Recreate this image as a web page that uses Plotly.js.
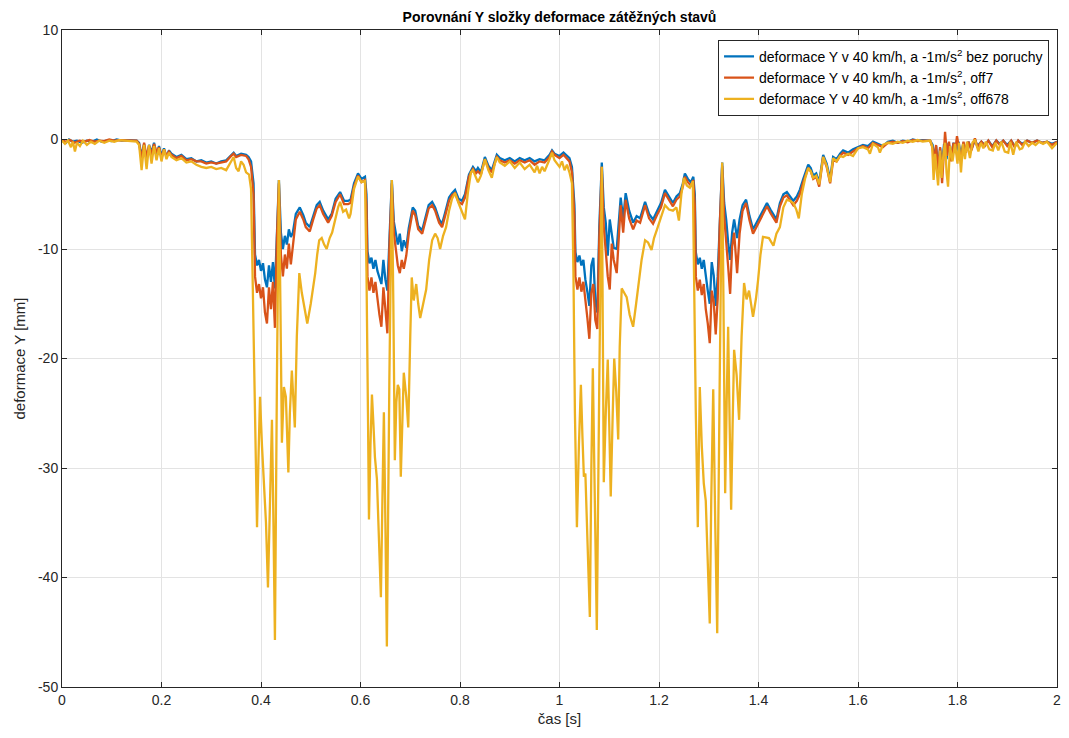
<!DOCTYPE html>
<html>
<head>
<meta charset="utf-8">
<script src="https://cdn.plot.ly/plotly-3.0.1.min.js"></script>
<style>html,body{margin:0;padding:0;background:#fff;}#chart{width:1069px;height:738px;}</style>
</head>
<body>
<div id="chart"></div>
<script>
// Series names
const seriesNames = [
  'deformace Y v 40 km/h, a -1m/s<sup>2</sup> bez poruchy',
  'deformace Y v 40 km/h, a -1m/s<sup>2</sup>, off7',
  'deformace Y v 40 km/h, a -1m/s<sup>2</sup>, off678'
];

// Blue: bez poruchy
const tB = [0.000,0.008,0.014,0.022,0.03,0.04,0.05,0.06,0.07,0.08,0.09,0.10,0.11,0.12,0.13,0.15,0.155,0.16,0.165,0.17,0.175,0.18,0.185,0.19,0.195,0.20,0.205,0.21,0.215,0.22,0.23,0.24,0.25,0.26,0.27,0.28,0.29,0.30,0.31,0.32,0.33,0.34,0.345,0.35,0.36,0.37,0.375,0.38,0.385,0.388,0.392,0.396,0.40,0.404,0.408,0.412,0.416,0.42,0.424,0.428,0.432,0.436,0.44,0.444,0.448,0.452,0.456,0.46,0.464,0.47,0.478,0.485,0.49,0.498,0.505,0.512,0.518,0.525,0.535,0.542,0.55,0.559,0.567,0.575,0.58,0.587,0.595,0.602,0.609,0.612,0.614,0.618,0.622,0.626,0.63,0.634,0.638,0.642,0.646,0.65,0.654,0.658,0.663,0.667,0.671,0.675,0.679,0.683,0.687,0.692,0.697,0.705,0.71,0.716,0.724,0.73,0.737,0.744,0.75,0.758,0.764,0.77,0.778,0.784,0.79,0.797,0.804,0.81,0.818,0.826,0.832,0.836,0.842,0.85,0.857,0.864,0.874,0.88,0.89,0.90,0.91,0.92,0.93,0.94,0.95,0.96,0.97,0.98,0.985,0.99,1.0,1.008,1.015,1.02,1.025,1.03,1.032,1.036,1.04,1.044,1.048,1.052,1.056,1.06,1.064,1.068,1.072,1.076,1.08,1.085,1.089,1.093,1.097,1.101,1.105,1.109,1.115,1.123,1.128,1.133,1.14,1.148,1.155,1.162,1.172,1.18,1.188,1.196,1.204,1.212,1.22,1.228,1.235,1.242,1.248,1.252,1.258,1.264,1.269,1.272,1.274,1.278,1.282,1.286,1.29,1.294,1.298,1.302,1.306,1.31,1.314,1.318,1.322,1.327,1.331,1.335,1.339,1.343,1.347,1.351,1.357,1.362,1.368,1.375,1.382,1.389,1.396,1.403,1.41,1.417,1.424,1.43,1.436,1.443,1.45,1.457,1.463,1.47,1.477,1.483,1.49,1.5,1.505,1.51,1.516,1.522,1.53,1.537,1.544,1.55,1.557,1.564,1.57,1.58,1.59,1.6,1.61,1.62,1.63,1.64,1.65,1.66,1.67,1.68,1.69,1.70,1.71,1.72,1.73,1.745,1.75,1.753,1.757,1.761,1.765,1.769,1.773,1.778,1.782,1.787,1.792,1.797,1.802,1.807,1.812,1.817,1.822,1.828,1.835,1.84,1.848,1.855,1.862,1.87,1.878,1.885,1.892,1.9,1.908,1.915,1.922,1.93,1.94,1.95,1.96,1.97,1.98,1.99,2.0];
const yB = [-0.1,-0.3,0.0,-0.2,-0.1,-0.3,-0.1,-0.2,0.0,-0.2,-0.1,-0.15,0.0,-0.1,-0.05,-0.1,-0.3,-1.5,-0.4,-1.8,-0.5,-1.2,-0.3,-1.4,-0.6,-1.5,-0.8,-1.6,-1.0,-1.3,-1.6,-1.4,-1.8,-1.7,-2.0,-1.9,-2.1,-2.0,-2.2,-2.0,-1.9,-1.4,-1.2,-1.5,-1.3,-1.4,-1.6,-2.0,-4,-10.5,-11.5,-11.0,-12.0,-11.3,-12.8,-13.5,-11.5,-13.0,-11.2,-13.6,-8,-3.7,-8.5,-10.0,-8.8,-9.6,-8.2,-8.9,-8.5,-6.8,-6.2,-6.9,-7.6,-8.0,-7.0,-6.0,-5.7,-6.5,-7.3,-6.8,-5.4,-4.8,-5.6,-5.6,-5.5,-4.0,-3.1,-3.6,-3.4,-5,-10.2,-11.3,-10.8,-11.8,-11.0,-12.0,-12.6,-13.2,-11.0,-12.8,-13.8,-9,-3.7,-7.5,-8.4,-9.6,-8.6,-10.2,-9.2,-9.9,-8.1,-6.2,-6.5,-7.9,-8.3,-7.2,-6.0,-5.7,-6.2,-7.3,-7.7,-6.7,-5.3,-4.9,-4.6,-5.4,-5.6,-5.0,-3.2,-2.5,-2.9,-2.6,-3.0,-1.6,-2.4,-2.8,-1.4,-1.7,-1.9,-1.7,-2.0,-1.7,-1.9,-1.7,-2.0,-1.8,-1.9,-1.4,-1.0,-1.3,-1.5,-1.2,-1.5,-1.7,-2.5,-6,-10.3,-11.2,-10.6,-11.5,-11.0,-12.8,-13.9,-15.2,-11.5,-10.8,-14.8,-15.8,-8,-2.1,-6.2,-7.6,-10.6,-7.3,-8.6,-9.9,-10.0,-5.3,-7.3,-4.9,-6.5,-7.6,-7.0,-7.2,-5.7,-6.8,-7.3,-6.5,-5.8,-4.6,-5.2,-5.8,-5.2,-4.9,-4.0,-3.1,-3.6,-3.9,-3.4,-5,-10.3,-11.4,-10.8,-11.8,-11.0,-12.6,-13.8,-15.0,-11.2,-12.4,-15.2,-12.5,-7,-2.1,-5.8,-7.3,-9.4,-11.0,-8.5,-7.3,-9.0,-7.3,-6.0,-5.5,-7.0,-8.2,-7.6,-7.0,-6.4,-5.8,-6.4,-6.9,-7.3,-5.8,-5.0,-4.8,-5.2,-5.6,-5.2,-4.6,-3.6,-2.3,-2.6,-3.3,-3.1,-3.9,-1.4,-2.2,-3.6,-1.6,-1.8,-1.3,-1.0,-1.2,-0.9,-0.7,-0.5,-0.6,-0.2,-0.4,-0.6,-0.2,-0.1,-0.3,-0.1,-0.2,0.0,-0.1,-0.05,-0.1,-0.5,-1.8,-0.6,-2.5,-0.8,-2.2,-0.4,-1.8,-0.3,-1.5,-0.3,-1.2,-0.2,-1.4,-0.3,-1.0,-0.2,-0.9,0.0,-0.6,-0.2,-0.5,-0.1,-0.6,-0.1,-0.4,-0.1,-0.5,-0.1,-0.6,-0.1,-0.4,-0.1,-0.3,-0.1,-0.3,-0.2,-0.4,-0.2];

// Red: off7
const tR = [0.000,0.008,0.016,0.025,0.035,0.045,0.055,0.065,0.075,0.085,0.095,0.105,0.115,0.13,0.15,0.155,0.16,0.165,0.17,0.175,0.18,0.185,0.19,0.195,0.20,0.205,0.21,0.215,0.22,0.23,0.24,0.25,0.26,0.27,0.28,0.29,0.30,0.31,0.32,0.33,0.34,0.345,0.35,0.36,0.37,0.375,0.38,0.385,0.388,0.392,0.396,0.40,0.404,0.408,0.412,0.416,0.42,0.424,0.428,0.432,0.436,0.44,0.444,0.448,0.452,0.456,0.46,0.464,0.47,0.478,0.485,0.49,0.498,0.505,0.512,0.518,0.525,0.535,0.542,0.55,0.559,0.567,0.575,0.58,0.587,0.595,0.602,0.609,0.612,0.614,0.618,0.622,0.626,0.63,0.634,0.638,0.642,0.646,0.65,0.654,0.658,0.663,0.667,0.671,0.675,0.679,0.683,0.687,0.692,0.697,0.705,0.71,0.716,0.724,0.73,0.737,0.744,0.75,0.758,0.764,0.77,0.778,0.784,0.79,0.797,0.804,0.81,0.818,0.826,0.832,0.836,0.842,0.85,0.857,0.864,0.874,0.88,0.89,0.90,0.91,0.92,0.93,0.94,0.95,0.96,0.97,0.98,0.985,0.99,1.0,1.008,1.015,1.02,1.025,1.03,1.032,1.036,1.04,1.044,1.048,1.052,1.056,1.06,1.064,1.068,1.072,1.076,1.08,1.085,1.089,1.093,1.097,1.101,1.105,1.109,1.115,1.123,1.128,1.133,1.14,1.148,1.155,1.162,1.172,1.18,1.188,1.196,1.204,1.212,1.22,1.228,1.235,1.242,1.248,1.252,1.258,1.264,1.269,1.272,1.274,1.278,1.282,1.286,1.29,1.294,1.298,1.302,1.306,1.31,1.314,1.318,1.322,1.327,1.331,1.335,1.339,1.343,1.347,1.351,1.357,1.362,1.368,1.375,1.382,1.389,1.396,1.403,1.41,1.417,1.424,1.43,1.436,1.443,1.45,1.457,1.463,1.47,1.477,1.483,1.49,1.5,1.505,1.51,1.516,1.522,1.53,1.537,1.544,1.55,1.557,1.564,1.57,1.58,1.59,1.6,1.61,1.62,1.63,1.64,1.65,1.66,1.67,1.68,1.69,1.70,1.71,1.72,1.73,1.745,1.75,1.753,1.757,1.761,1.765,1.769,1.772,1.775,1.779,1.783,1.787,1.792,1.795,1.799,1.803,1.807,1.812,1.817,1.822,1.828,1.835,1.84,1.848,1.855,1.862,1.87,1.878,1.885,1.892,1.9,1.908,1.915,1.922,1.93,1.94,1.95,1.96,1.97,1.98,1.99,2.0];
const yR = [-0.1,-0.2,-0.05,-0.3,-0.1,-0.2,-0.05,-0.2,-0.1,-0.15,0.0,-0.1,-0.05,-0.1,-0.1,-0.4,-1.8,-0.3,-1.6,-0.6,-1.4,-0.4,-1.2,-0.7,-1.7,-0.9,-1.5,-1.1,-1.4,-1.7,-1.5,-1.9,-1.8,-2.0,-2.0,-2.2,-2.1,-2.2,-2.1,-2.0,-1.5,-1.3,-1.6,-1.4,-1.5,-1.8,-2.5,-5,-12.5,-14.0,-13.2,-14.5,-13.5,-15.8,-16.8,-13.5,-15.5,-13.0,-17.2,-9,-4.0,-10.5,-12.5,-10.5,-11.8,-9.5,-11.4,-9.8,-7.3,-6.6,-7.3,-8.0,-8.4,-7.3,-6.3,-6.0,-6.8,-7.6,-7.0,-5.7,-5.0,-5.9,-5.9,-5.8,-4.3,-3.3,-3.9,-3.7,-6,-12.5,-13.8,-12.6,-14.0,-13.0,-14.8,-16.0,-17.1,-13.5,-15.5,-17.7,-10,-4.0,-8.5,-10.0,-11.5,-12.2,-11.0,-11.8,-10.6,-8.6,-6.5,-6.9,-8.2,-8.6,-7.5,-6.3,-6.0,-6.5,-7.6,-8.0,-7.0,-5.6,-5.1,-4.9,-5.7,-5.9,-5.3,-3.4,-2.7,-3.1,-2.9,-3.2,-1.8,-2.6,-3.0,-1.6,-1.9,-2.1,-1.9,-2.2,-1.9,-2.1,-1.9,-2.3,-2.0,-2.1,-1.6,-1.1,-1.4,-1.7,-1.4,-1.7,-2.0,-3.0,-7,-12.5,-13.7,-12.6,-13.9,-13.0,-15.0,-16.3,-18.2,-14.0,-13.2,-16.5,-17.3,-9,-2.5,-8.0,-10.2,-12.5,-13.7,-9.5,-11.0,-12.2,-6.0,-8.5,-5.5,-7.2,-8.2,-7.4,-7.6,-6.0,-7.2,-7.7,-6.9,-6.2,-4.9,-5.5,-6.1,-5.5,-5.2,-4.3,-3.4,-3.9,-4.2,-3.7,-6,-12.5,-13.8,-12.8,-14.2,-13.2,-15.5,-16.8,-18.6,-13.8,-14.8,-17.8,-14.5,-8,-2.4,-7.0,-9.0,-11.6,-14.1,-9.8,-8.5,-12.2,-8.6,-6.5,-5.8,-7.4,-8.6,-8.0,-7.3,-6.7,-6.1,-6.7,-7.2,-7.6,-6.1,-5.3,-5.1,-5.5,-6.0,-5.6,-5.0,-3.9,-2.6,-2.9,-3.6,-3.4,-4.3,-1.6,-2.5,-4.0,-1.9,-2.0,-1.5,-1.2,-1.4,-1.1,-0.8,-0.6,-0.8,-0.3,-0.5,-0.7,-0.3,-0.2,-0.3,-0.15,-0.25,-0.05,-0.15,-0.1,-0.1,-0.8,-2.0,-0.5,-3.0,-0.7,-4.0,-1.0,0.7,-1.5,-0.2,-2.0,-0.3,-1.2,0.3,-0.8,-1.9,-0.2,-1.2,-0.2,-1.0,0.1,-0.7,-0.2,-0.6,-0.1,-0.7,-0.1,-0.5,-0.1,-0.6,-0.1,-0.7,-0.1,-0.5,-0.1,-0.3,-0.1,-0.3,-0.2,-0.5,-0.2];

// Yellow: off678
const tY = [0.000,0.006,0.012,0.018,0.022,0.026,0.03,0.036,0.042,0.05,0.058,0.066,0.075,0.085,0.095,0.105,0.115,0.13,0.15,0.155,0.16,0.165,0.17,0.175,0.18,0.185,0.19,0.195,0.20,0.205,0.21,0.215,0.22,0.23,0.24,0.25,0.26,0.27,0.28,0.29,0.30,0.31,0.32,0.33,0.335,0.34,0.345,0.35,0.355,0.36,0.365,0.37,0.376,0.38,0.384,0.388,0.392,0.395,0.398,0.402,0.406,0.41,0.414,0.418,0.422,0.425,0.428,0.432,0.436,0.439,0.442,0.446,0.45,0.455,0.458,0.462,0.465,0.468,0.472,0.477,0.482,0.487,0.493,0.5,0.505,0.509,0.513,0.517,0.522,0.527,0.532,0.538,0.543,0.55,0.555,0.559,0.565,0.571,0.577,0.58,0.587,0.595,0.602,0.609,0.612,0.615,0.617,0.62,0.623,0.626,0.629,0.633,0.637,0.641,0.644,0.647,0.65,0.653,0.658,0.663,0.666,0.669,0.672,0.675,0.678,0.681,0.684,0.687,0.692,0.696,0.7,0.703,0.707,0.712,0.716,0.72,0.726,0.732,0.738,0.744,0.75,0.755,0.76,0.766,0.772,0.778,0.784,0.79,0.797,0.804,0.81,0.816,0.822,0.826,0.83,0.836,0.842,0.85,0.857,0.864,0.87,0.874,0.88,0.89,0.90,0.91,0.92,0.93,0.94,0.95,0.955,0.96,0.965,0.97,0.98,0.985,0.99,1.0,1.005,1.01,1.015,1.02,1.025,1.028,1.031,1.035,1.039,1.043,1.046,1.049,1.052,1.056,1.061,1.064,1.067,1.071,1.075,1.08,1.085,1.087,1.089,1.093,1.097,1.1,1.103,1.107,1.11,1.114,1.118,1.121,1.125,1.13,1.135,1.141,1.148,1.154,1.158,1.165,1.172,1.178,1.185,1.19,1.196,1.204,1.212,1.22,1.228,1.235,1.24,1.245,1.25,1.256,1.262,1.268,1.27,1.274,1.278,1.282,1.286,1.29,1.294,1.298,1.302,1.305,1.309,1.313,1.317,1.322,1.327,1.33,1.333,1.336,1.339,1.342,1.345,1.348,1.351,1.356,1.361,1.366,1.371,1.376,1.381,1.389,1.395,1.399,1.404,1.409,1.416,1.421,1.43,1.436,1.443,1.45,1.457,1.463,1.47,1.476,1.481,1.487,1.494,1.5,1.505,1.51,1.516,1.522,1.53,1.537,1.544,1.55,1.557,1.564,1.57,1.58,1.59,1.6,1.61,1.62,1.624,1.63,1.64,1.644,1.65,1.66,1.67,1.68,1.69,1.70,1.71,1.72,1.73,1.745,1.749,1.752,1.755,1.758,1.761,1.765,1.768,1.772,1.775,1.778,1.781,1.785,1.79,1.795,1.8,1.803,1.807,1.811,1.815,1.819,1.825,1.83,1.835,1.842,1.847,1.852,1.857,1.864,1.871,1.876,1.882,1.888,1.895,1.902,1.906,1.912,1.918,1.925,1.93,1.936,1.943,1.95,1.957,1.964,1.972,1.98,1.99,2.0];
const yY = [-0.1,-0.4,-0.1,-0.7,-0.2,-1.1,-0.3,-0.6,-0.1,-0.5,-0.2,-0.4,-0.1,-0.3,-0.1,-0.2,-0.05,-0.1,-0.2,-0.5,-2.8,-0.5,-2.7,-0.5,-2.2,-0.6,-1.9,-0.8,-2.0,-0.9,-1.8,-1.2,-1.6,-1.9,-1.7,-2.1,-2.0,-2.3,-2.5,-2.6,-2.5,-2.7,-2.6,-2.8,-2.4,-1.9,-1.6,-2.6,-2.9,-2.0,-2.3,-3.0,-3.2,-4.5,-14,-27,-35.4,-29,-23.5,-28,-31.1,-35,-40.9,-33,-25.6,-35,-45.7,-22,-3.7,-15,-27.7,-22.6,-23.5,-30.4,-25,-21.1,-24,-26.3,-18,-12.2,-14.0,-15.3,-16.8,-15.0,-13.5,-12.2,-10.5,-9.2,-9.0,-9.6,-10.0,-9.0,-8.5,-7.0,-6.2,-5.7,-6.6,-6.4,-7.2,-6.8,-4.5,-3.4,-3.9,-3.8,-12,-25,-34.7,-28,-23.3,-26,-29,-31,-36,-41.8,-33,-24.9,-35,-46.3,-22,-3.7,-15,-29.3,-24,-22.4,-22.8,-30.8,-26,-21.3,-23.5,-26.3,-18,-12.6,-14.7,-13.2,-15.0,-16.3,-15.0,-13.7,-11.0,-9.2,-8.6,-9.0,-10.0,-8.8,-8.0,-6.5,-5.4,-4.9,-5.8,-6.6,-7.3,-4.8,-3.0,-2.8,-3.2,-3.9,-3.3,-1.8,-2.8,-3.5,-2.2,-1.6,-2.1,-2.4,-2.0,-2.6,-2.1,-2.7,-2.3,-3.0,-2.4,-3.1,-2.5,-2.9,-1.8,-1.2,-1.9,-2.5,-2.0,-2.8,-2.3,-3.0,-4.0,-12,-25,-35.4,-28,-22.4,-27,-30.8,-30.5,-36,-43.6,-30,-20.9,-33,-44.8,-22,-2.5,-17,-31.3,-25,-20.1,-26,-32.6,-25,-20.0,-23,-27.4,-19,-13.6,-14.0,-14.4,-16.0,-17.1,-15.0,-13.4,-11.0,-9.2,-9.4,-10.1,-9.0,-8.2,-7.0,-6.0,-6.4,-6.5,-6.2,-7.4,-5.0,-3.5,-4.2,-4.4,-3.8,-12,-25,-35.4,-22.6,-28,-31.4,-33,-38,-44.2,-33,-22.8,-35,-45.1,-22,-2.1,-17,-32.3,-24,-17.1,-26,-33.8,-26,-19.2,-21.5,-25.6,-18,-13.1,-14.6,-13.8,-16.2,-14.5,-12.9,-10.5,-8.9,-9.0,-9.0,-9.7,-8.6,-8.0,-6.2,-5.5,-5.6,-5.8,-6.4,-7.2,-5.0,-3.5,-2.6,-2.9,-3.5,-3.3,-4.1,-1.6,-2.4,-3.9,-1.7,-2.0,-1.5,-1.6,-1.3,-1.5,-0.8,-0.7,-0.9,-1.3,-0.4,-0.7,-1.2,-0.5,-0.3,-0.4,-0.2,-0.3,-0.1,-0.2,-0.05,-0.2,-0.1,-0.6,-3.7,-1.3,-2.5,-4.2,-1.0,-3.5,-1.2,-0.3,-3.0,-4.3,-0.6,-2.0,-0.4,-2.2,-0.3,-3.0,-0.4,-1.8,-0.2,-1.7,-0.3,0.0,-1.1,-0.3,-0.8,-0.2,-0.9,-1.0,-0.3,-1.0,-0.2,-1.1,-1.2,-0.2,-1.4,-0.2,-0.9,-0.8,-0.2,-0.6,-0.3,-0.5,-0.2,-0.4,-0.2,-0.8,-0.3];

// Tick labels
const xTickVals = [0,0.2,0.4,0.6,0.8,1,1.2,1.4,1.6,1.8,2];
const xTickText = ['0','0.2','0.4','0.6','0.8','1','1.2','1.4','1.6','1.8','2'];
const yTickVals = [-50,-40,-30,-20,-10,0,10];
const yTickText = ['-50','-40','-30','-20','-10','0','10'];

const colors = ['#0072BD','#D95319','#EDB120'];
const FONT = 'Liberation Sans, Arial, Helvetica, sans-serif';
const axisColor = '#262626';

const traces = [
  {x: tB, y: yB, name: seriesNames[0]},
  {x: tR, y: yR, name: seriesNames[1]},
  {x: tY, y: yY, name: seriesNames[2]}
].map((t, i) => Object.assign(t, {
  type: 'scatter', mode: 'lines',
  line: {color: colors[i], width: 2.3}
}));

const axisCommon = {
  showline: true, mirror: 'ticks', linecolor: axisColor, linewidth: 1,
  ticks: 'inside', ticklen: 5, tickcolor: axisColor,
  showgrid: true, gridcolor: '#e3e3e3', gridwidth: 1,
  zeroline: false,
  tickfont: {family: FONT, size: 14, color: axisColor}
};

const layout = {
  width: 1069, height: 738,
  margin: {l: 62, r: 12, t: 30, b: 51},
  paper_bgcolor: '#ffffff', plot_bgcolor: '#ffffff',
  font: {family: FONT, color: axisColor},
  showlegend: true,
  title: {
    text: '<b>Porovnání Y složky deformace zátěžných stavů</b>',
    font: {family: FONT, size: 14, color: '#000000'},
    x: 0.5234, xanchor: 'center', y: 0.977, yanchor: 'middle'
  },
  xaxis: Object.assign({}, axisCommon, {
    range: [0, 2], tickmode: 'array', tickvals: xTickVals, ticktext: xTickText,
    title: {text: 'čas [s]', font: {family: FONT, size: 15, color: axisColor}, standoff: 6}
  }),
  yaxis: Object.assign({}, axisCommon, {
    range: [-50, 10], tickmode: 'array', tickvals: yTickVals, ticktext: yTickText,
    title: {text: 'deformace Y [mm]', font: {family: FONT, size: 15, color: axisColor}, standoff: 8}
  }),
  legend: {
    x: 0.992, xanchor: 'right', y: 0.985, yanchor: 'top',
    bgcolor: '#ffffff', bordercolor: axisColor, borderwidth: 1,
    font: {family: FONT, size: 14, color: '#000000'},
    tracegroupgap: 0
  }
};

Plotly.newPlot('chart', traces, layout, {displayModeBar: false, staticPlot: true});
</script>
</body>
</html>
